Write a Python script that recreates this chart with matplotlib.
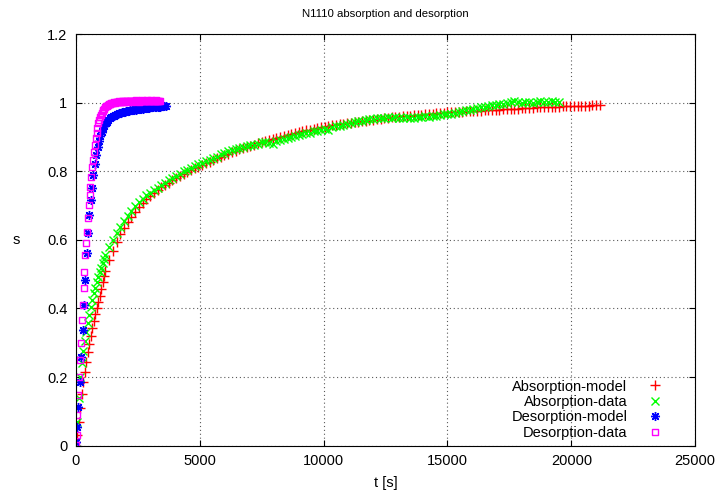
import numpy as np
import matplotlib
matplotlib.use("Agg")
import matplotlib.pyplot as plt
from matplotlib.path import Path

plt.rcParams['font.family'] = ['Liberation Sans', 'DejaVu Sans']

# Absorption: sampled every 60 s up to 1200 s, then every 150 s
abs_model_t = np.concatenate([np.arange(0, 1200, 60), np.arange(1200, 21151, 150)])
abs_model_s = [
    0.000, 0.030, 0.070, 0.110, 0.150, 0.185, 0.216, 0.245, 0.272, 0.297,
    0.320, 0.342, 0.364, 0.385, 0.402, 0.420, 0.437, 0.458, 0.478, 0.495,
    0.510, 0.540, 0.568, 0.595, 0.617, 0.636, 0.653, 0.668, 0.682, 0.695,
    0.707, 0.718, 0.728, 0.737, 0.745, 0.753, 0.760, 0.767, 0.774, 0.781,
    0.787, 0.793, 0.799, 0.804, 0.809, 0.813, 0.818, 0.823, 0.828, 0.833,
    0.838, 0.843, 0.847, 0.851, 0.856, 0.860, 0.864, 0.867, 0.871, 0.875,
    0.878, 0.882, 0.885, 0.888, 0.891, 0.894, 0.897, 0.900, 0.903, 0.906,
    0.909, 0.912, 0.915, 0.917, 0.919, 0.921, 0.923, 0.926, 0.928, 0.930,
    0.932, 0.934, 0.935, 0.937, 0.939, 0.940, 0.942, 0.943, 0.945, 0.946,
    0.948, 0.949, 0.950, 0.952, 0.953, 0.954, 0.955, 0.957, 0.958, 0.959,
    0.960, 0.961, 0.962, 0.963, 0.964, 0.965, 0.966, 0.967, 0.968, 0.969,
    0.970, 0.971, 0.972, 0.972, 0.973, 0.974, 0.974, 0.975, 0.975, 0.976,
    0.977, 0.977, 0.978, 0.979, 0.979, 0.980, 0.980, 0.981, 0.981, 0.982,
    0.983, 0.983, 0.984, 0.984, 0.985, 0.985, 0.986, 0.986, 0.987, 0.987,
    0.988, 0.988, 0.988, 0.989, 0.989, 0.990, 0.990, 0.990, 0.991, 0.991,
    0.991, 0.992, 0.992, 0.992,
]

abs_data_t = np.concatenate([np.arange(0, 1200, 60), np.arange(1200, 19501, 150)])
abs_data_s = [
    0.010, 0.070, 0.140, 0.200, 0.240, 0.275, 0.305, 0.332, 0.358, 0.382,
    0.405, 0.425, 0.444, 0.461, 0.477, 0.492, 0.506, 0.519, 0.532, 0.544,
    0.555, 0.578, 0.600, 0.619, 0.637, 0.654, 0.670, 0.685, 0.698, 0.710,
    0.720, 0.730, 0.737, 0.746, 0.752, 0.761, 0.767, 0.774, 0.779, 0.787,
    0.792, 0.800, 0.804, 0.810, 0.815, 0.821, 0.825, 0.831, 0.834, 0.840,
    0.843, 0.849, 0.852, 0.858, 0.862, 0.866, 0.868, 0.872, 0.873, 0.877,
    0.878, 0.880, 0.884, 0.886, 0.882, 0.880, 0.887, 0.890, 0.893, 0.896,
    0.900, 0.903, 0.906, 0.908, 0.911, 0.913, 0.916, 0.918, 0.920, 0.924,
    0.921, 0.928, 0.931, 0.933, 0.936, 0.939, 0.942, 0.944, 0.946, 0.948,
    0.950, 0.951, 0.953, 0.955, 0.955, 0.956, 0.957, 0.955, 0.957, 0.956,
    0.955, 0.957, 0.956, 0.955, 0.958, 0.957, 0.960, 0.959, 0.962, 0.961,
    0.964, 0.966, 0.967, 0.968, 0.971, 0.973, 0.976, 0.978, 0.980, 0.982,
    0.984, 0.986, 0.988, 0.990, 0.992, 0.994, 0.995, 0.997, 1.000, 1.003,
    1.004, 1.002, 1.000, 1.003, 1.001, 1.000, 1.002, 1.004, 1.003, 1.001,
    1.004, 1.002, 1.001,
]

# Desorption: model every 55 s, data every 35 s
des_model_t = np.arange(0, 3631, 55)
des_model_s = [
    0.012, 0.055, 0.114, 0.187, 0.260, 0.337, 0.410, 0.483, 0.561, 0.620,
    0.673, 0.716, 0.752, 0.789, 0.821, 0.847, 0.870, 0.888, 0.903, 0.915,
    0.925, 0.933, 0.940, 0.945, 0.950, 0.954, 0.957, 0.960, 0.962, 0.964,
    0.966, 0.968, 0.969, 0.971, 0.972, 0.973, 0.974, 0.975, 0.976, 0.977,
    0.978, 0.978, 0.979, 0.980, 0.980, 0.981, 0.982, 0.982, 0.983, 0.983,
    0.984, 0.984, 0.985, 0.985, 0.985, 0.986, 0.986, 0.987, 0.987, 0.987,
    0.988, 0.988, 0.988, 0.989, 0.989, 0.989, 0.990,
]

des_data_t = np.arange(0, 3396, 35)
des_data_s = [
    0.002, 0.031, 0.090, 0.148, 0.200, 0.250, 0.300, 0.366, 0.410, 0.460,
    0.507, 0.556, 0.590, 0.624, 0.663, 0.702, 0.731, 0.755, 0.784, 0.813,
    0.833, 0.857, 0.877, 0.896, 0.912, 0.925, 0.940, 0.950, 0.958, 0.965,
    0.970, 0.975, 0.979, 0.983, 0.986, 0.989, 0.991, 0.993, 0.995, 0.996,
    0.997, 0.999, 0.998, 1.000, 1.001, 0.999, 1.002, 1.001, 1.003, 1.002,
    1.004, 1.002, 1.003, 1.005, 1.003, 1.004, 1.002, 1.005, 1.004, 1.006,
    1.003, 1.005, 1.004, 1.006, 1.005, 1.003, 1.006, 1.004, 1.005, 1.007,
    1.004, 1.006, 1.005, 1.003, 1.006, 1.004, 1.007, 1.005, 1.006, 1.004,
    1.006, 1.005, 1.007, 1.005, 1.004, 1.006, 1.005, 1.007, 1.006, 1.004,
    1.006, 1.005, 1.007, 1.005, 1.006, 1.004, 1.006, 1.005,
]

x_ticks = [0, 5000, 10000, 15000, 20000, 25000]
y_ticks = [0, 0.2, 0.4, 0.6, 0.8, 1, 1.2]

# gnuplot-like open box with a dot in the middle
box_dot = Path(
    [(-1, -1), (1, -1), (1, 1), (-1, 1), (-1, -1),
     (-0.12, -0.12), (0.12, -0.12), (0.12, 0.12), (-0.12, 0.12), (-0.12, -0.12)],
    [Path.MOVETO, Path.LINETO, Path.LINETO, Path.LINETO, Path.CLOSEPOLY,
     Path.MOVETO, Path.LINETO, Path.LINETO, Path.LINETO, Path.CLOSEPOLY],
)

fig = plt.figure(figsize=(7.2, 4.94), dpi=100)
ax = fig.add_axes([0.1052, 0.0978, 0.8604, 0.8332])

mew = 1.0
ax.plot(abs_model_t, abs_model_s, linestyle="none", marker="+", ms=6.5,
        mew=mew, color="#ff0000", label="Absorption-model")
ax.plot(abs_data_t, abs_data_s, linestyle="none", marker="x", ms=5.5,
        mew=mew, color="#00ff00", label="Absorption-data")
ax.plot(des_model_t, des_model_s, linestyle="none", marker=(8, 2, 0), ms=6.5,
        mew=mew, color="#0000ff", label="Desorption-model")
ax.plot(des_data_t, des_data_s, linestyle="none", marker=box_dot, ms=5,
        mew=mew, mfc="none", color="#ff00ff", label="Desorption-data")

ax.set_xlim(0, 25000)
ax.set_ylim(0, 1.2)
ax.set_xticks(x_ticks)
ax.set_yticks(y_ticks)
ax.set_yticklabels([f"{v:g}" for v in y_ticks])
ax.tick_params(direction="in", top=True, right=True, length=4.5, width=0.8,
               labelsize=10.5, pad=6)
ax.grid(True, color="0.35", linestyle=(0, (1, 2.5)), linewidth=0.8)
for sp in ax.spines.values():
    sp.set_linewidth(0.8)

ax.set_title("N1110 absorption and desorption", fontsize=8.2, pad=12)
ax.set_xlabel("t [s]", fontsize=10.5, labelpad=6)
ax.set_ylabel("s", fontsize=10.5, rotation=0, labelpad=22, va="center")

ax.legend(loc="lower right", bbox_to_anchor=(0.959, 0.014), frameon=False,
          markerfirst=False, fontsize=10.5, labelspacing=0.1,
          handlelength=2.0, handletextpad=0.9, borderpad=0, borderaxespad=0)

fig.savefig("out.png", dpi=100)
